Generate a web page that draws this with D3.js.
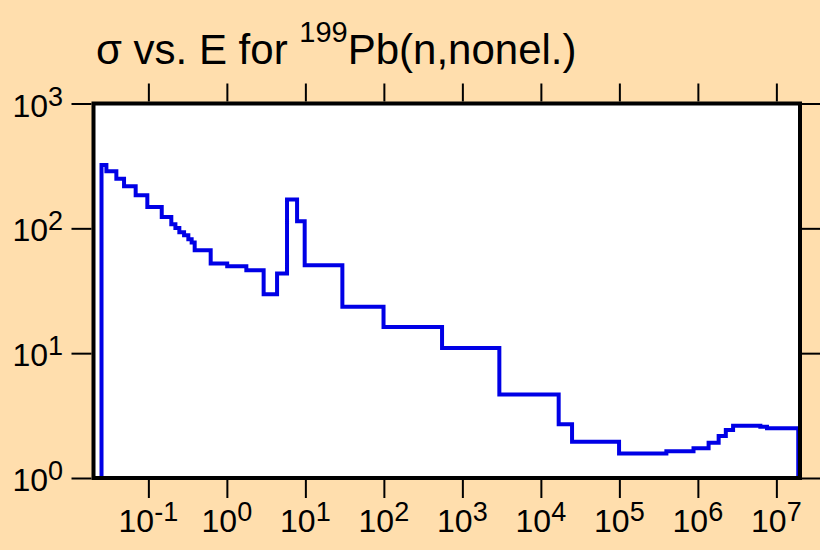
<!DOCTYPE html>
<html>
<head>
<meta charset="utf-8">
<script src="https://cdn.jsdelivr.net/npm/d3@7"></script>
<style>
  html, body { margin: 0; padding: 0; background: #ffdead; }
  svg { display: block; font-family: "Liberation Sans", Arial, sans-serif; }
</style>
</head>
<body>
<svg id="chart" width="820" height="550"></svg>
<script>
// Group-wise nonelastic cross section: bin edges (eV) and value in each bin (b)
const edges = [0.0253, 0.0292, 0.0391, 0.049, 0.0689, 0.097, 0.148, 0.196, 0.221, 0.248,
  0.285, 0.323, 0.356, 0.389, 0.622, 1.01, 1.77, 2.94, 4.36, 5.84, 7.84, 9.8, 29.6, 99,
  551, 2958, 16860, 24960, 99100, 397000, 880000, 1.37e6, 1.84e6, 2.27e6, 2.81e6,
  6.25e6, 7.6e6, 1.9e7];
const sigma = [322, 286, 250, 217, 184, 148, 123, 108, 100.5, 92.9, 87.9, 81.7, 76.9,
  66.7, 52.2, 49.7, 46.1, 29.6, 43.4, 170, 114, 50.6, 23.5, 16.2, 11.0, 4.66, 2.69, 1.95,
  1.57, 1.64, 1.73, 1.92, 2.17, 2.42, 2.62, 2.57, 2.50];

const xTickExps = [-1, 0, 1, 2, 3, 4, 5, 6, 7];
const yTickExps = [0, 1, 2, 3];
const xDomain = [0.02, 2e7];
const yDomain = [1, 1000];

const svg = d3.select("#chart");
const plotL = 93.5, plotR = 800, plotT = 103.5, plotB = 478;

const x = d3.scaleLog().domain(xDomain).range([plotL, plotR]);
const y = d3.scaleLog().domain(yDomain).range([plotB, plotT]);

// plot area
svg.append("rect")
  .attr("x", plotL).attr("y", plotT)
  .attr("width", plotR - plotL).attr("height", plotB - plotT)
  .attr("fill", "#ffffff");

svg.append("clipPath").attr("id", "plotClip")
  .append("rect")
  .attr("x", plotL).attr("y", plotT)
  .attr("width", plotR - plotL).attr("height", plotB - plotT);

// histogram outline: rises from the bottom at the first edge, drops at the last
const pts = [[edges[0], yDomain[0]]];
sigma.forEach((s, i) => {
  pts.push([edges[i], s]);
  pts.push([edges[i + 1], s]);
});
pts.push([edges[edges.length - 1], yDomain[0]]);

const line = d3.line().x(d => x(d[0])).y(d => y(d[1]));
svg.append("path")
  .attr("clip-path", "url(#plotClip)")
  .attr("d", line(pts))
  .attr("fill", "none")
  .attr("stroke", "#0000e6")
  .attr("stroke-width", 4)
  .attr("stroke-linejoin", "miter");

// axes (ticks only; labels drawn separately with superscripts)
const xTicks = xTickExps.map(e => Math.pow(10, e));
const yTicks = yTickExps.map(e => Math.pow(10, e));

function styleAxis(g) {
  g.select(".domain").remove();
  g.selectAll(".tick line").attr("stroke", "#000").attr("stroke-width", 2);
  g.selectAll(".tick text").remove();
}

svg.append("g").attr("transform", `translate(0,${plotB + 2})`)
  .call(d3.axisBottom(x).tickValues(xTicks).tickSize(18).tickFormat(""))
  .call(styleAxis);
svg.append("g").attr("transform", `translate(0,${plotT - 2})`)
  .call(d3.axisTop(x).tickValues(xTicks).tickSize(18).tickFormat(""))
  .call(styleAxis);
svg.append("g").attr("transform", `translate(${plotL - 2},0)`)
  .call(d3.axisLeft(y).tickValues(yTicks).tickSize(20).tickFormat(""))
  .call(styleAxis);
svg.append("g").attr("transform", `translate(${plotR + 2},0)`)
  .call(d3.axisRight(y).tickValues(yTicks).tickSize(20).tickFormat(""))
  .call(styleAxis);

// frame
svg.append("rect")
  .attr("x", plotL).attr("y", plotT)
  .attr("width", plotR - plotL).attr("height", plotB - plotT)
  .attr("fill", "none")
  .attr("stroke", "#000")
  .attr("stroke-width", 4);

function powLabel(sel, exp) {
  sel.append("tspan").text("10");
  sel.append("tspan").attr("dy", -11).attr("font-size", 27).text(String(exp));
}

// x tick labels
xTickExps.forEach(e => {
  svg.append("text")
    .attr("x", x(Math.pow(10, e)))
    .attr("y", 532)
    .attr("text-anchor", "middle")
    .attr("font-size", 32)
    .attr("fill", "#000")
    .call(powLabel, e);
});

// y tick labels
yTickExps.forEach(e => {
  svg.append("text")
    .attr("x", 63)
    .attr("y", y(Math.pow(10, e)) + 13)
    .attr("text-anchor", "end")
    .attr("font-size", 32)
    .attr("fill", "#000")
    .call(powLabel, e);
});

// title
const title = svg.append("text")
  .attr("x", 96).attr("y", 64)
  .attr("font-size", 42)
  .attr("fill", "#000");
title.append("tspan").text("\u03c3 vs. E for ");
title.append("tspan").attr("dy", -22).attr("font-size", 29).text("199");
title.append("tspan").attr("dy", 22).text("Pb(n,nonel.)");
</script>
</body>
</html>
